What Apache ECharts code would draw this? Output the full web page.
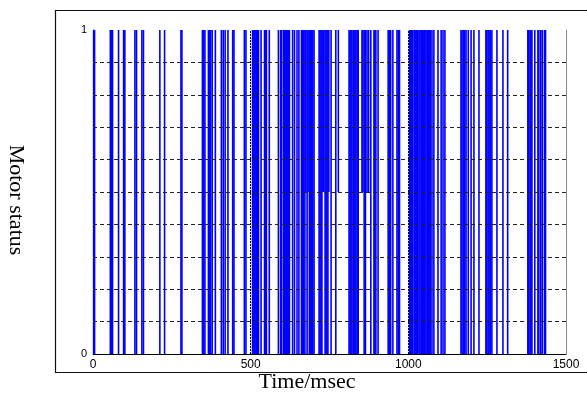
<!DOCTYPE html>
<html>
<head>
<meta charset="utf-8">
<script src="https://cdn.jsdelivr.net/npm/echarts@6/dist/echarts.min.js"></script>
<style>
    html, body { margin: 0; padding: 0; background: #fff; }
    #chart { width: 587px; height: 394px; }
</style>
</head>
<body>
<div id="chart"></div>
<script>
// time ticks (msec) and status ticks
const timeTicks = [0, 500, 1000, 1500];
const statusTicks = [0, 1];
const gridLevels = [0.1, 0.2, 0.3, 0.4, 0.5, 0.6, 0.7, 0.8, 0.9];
const gridTimes = [500, 1000];

// switching instants where the status line spans the whole 0..1 range (msec)
const fullEdges = [
    2, 5, 55, 59, 62, 81, 97, 101, 133, 138, 155, 160, 212, 227, 279, 282,
    347, 351, 355, 366, 369, 373, 378, 388, 407, 413, 419, 428, 443, 447, 480, 485,
    506, 509, 512, 515, 519, 522, 525, 533, 544, 547, 550, 559, 588, 595, 598,
    604, 607, 610, 613, 616, 620, 623, 633, 639, 647, 653,
    661, 665, 668, 672, 679, 686, 690, 693, 697, 701,
    717, 720, 723, 726, 736, 739, 742, 745, 755, 770,
    812, 815, 818, 821, 825, 828, 831, 834, 838, 841, 860, 864, 881, 891, 894, 897, 904,
    936, 940, 944, 951, 964, 968, 972,
    1004, 1007, 1010, 1013, 1018, 1021, 1024, 1027, 1030, 1034, 1037, 1041, 1044, 1047,
    1050, 1053, 1056, 1060, 1063, 1066, 1070, 1075, 1081, 1094, 1104, 1110, 1116,
    1167, 1170, 1174, 1179, 1183, 1190, 1199, 1208, 1224,
    1246, 1249, 1253, 1256, 1260, 1265, 1281, 1300, 1315,
    1379, 1382, 1386, 1389, 1392, 1401, 1411, 1414, 1420, 1425, 1432, 1435,
];
// instants where only the upper half (0.5..1) is drawn
const upperEdges = [675, 682, 729, 732, 748, 778, 853, 856, 869, 874];

const segments = [
    ...fullEdges.map((t) => [t, 0, 1]),
    ...upperEdges.map((t) => [t, 0.5, 1]),
];

const serif = "Liberation Serif";
const sans = "Liberation Sans";

const chart = echarts.init(document.getElementById("chart"), null, { renderer: "canvas" });

const option = {
    animation: false,
    backgroundColor: "#fff",
    grid: {
        left: 93,
        right: 21,
        top: 30,
        bottom: 40,
    },
    xAxis: {
        type: "value",
        min: timeTicks[0],
        max: timeTicks[timeTicks.length - 1],
        interval: 500,
        axisLine: { show: true, lineStyle: { color: "#000", width: 1 } },
        axisTick: { show: false },
        splitLine: { show: false },
        axisLabel: {
            color: "#000",
            fontFamily: sans,
            fontSize: 12,
            margin: 5,
            formatter: (v) => (timeTicks.includes(v) ? String(v) : ""),
        },
    },
    yAxis: [
        {
            type: "value",
            min: statusTicks[0],
            max: statusTicks[1],
            interval: 1,
            axisLine: { show: true, lineStyle: { color: "#000", width: 1 } },
            axisTick: { show: false },
            splitLine: { show: false },
            axisLabel: {
                color: "#000",
                fontFamily: sans,
                fontSize: 11,
                margin: 6,
            },
        },
        {
            type: "value",
            min: 0,
            max: 1,
            position: "right",
            axisLine: { show: true, lineStyle: { color: "#888", width: 1 } },
            axisTick: { show: false },
            axisLabel: { show: false },
            splitLine: { show: false },
        },
    ],
    graphic: [
        {
            type: "rect",
            silent: true,
            shape: { x: 55.5, y: 10.5, width: 620, height: 362 },
            style: { fill: "none", stroke: "#111", lineWidth: 1.2 },
        },
        {
            type: "text",
            x: 16,
            y: 200,
            rotation: -Math.PI / 2,
            style: {
                text: "Motor status",
                font: `22px "${serif}"`,
                fill: "#000",
                align: "center",
                verticalAlign: "middle",
            },
        },
        {
            type: "text",
            x: 307,
            y: 382,
            style: {
                text: "Time/msec",
                font: `22px "${serif}"`,
                fill: "#000",
                align: "center",
                verticalAlign: "middle",
            },
        },
    ],
    series: [
        {
            // dashed grid
            type: "line",
            data: [],
            z: 1,
            silent: true,
            markLine: {
                silent: true,
                symbol: "none",
                animation: false,
                label: { show: false },
                data: [
                    ...gridLevels.map((v) => ({
                        yAxis: v,
                        lineStyle: { color: "#222", type: [4, 3], width: 1 },
                    })),
                    ...gridTimes.map((t) => ({
                        xAxis: t,
                        lineStyle: { color: "#000", type: [2, 1], width: 1 },
                    })),
                ],
            },
        },
        {
            name: "Motor status",
            type: "custom",
            z: 2,
            silent: true,
            encode: { x: 0, y: [1, 2] },
            data: segments,
            renderItem: (params, api) => {
                const a = api.coord([api.value(0), api.value(1)]);
                const b = api.coord([api.value(0), api.value(2)]);
                return {
                    type: "line",
                    shape: { x1: a[0], y1: a[1], x2: b[0], y2: b[1] },
                    style: { stroke: "#0000ff", lineWidth: 1.6 },
                };
            },
        },
    ],
};

chart.setOption(option);
</script>
</body>
</html>
